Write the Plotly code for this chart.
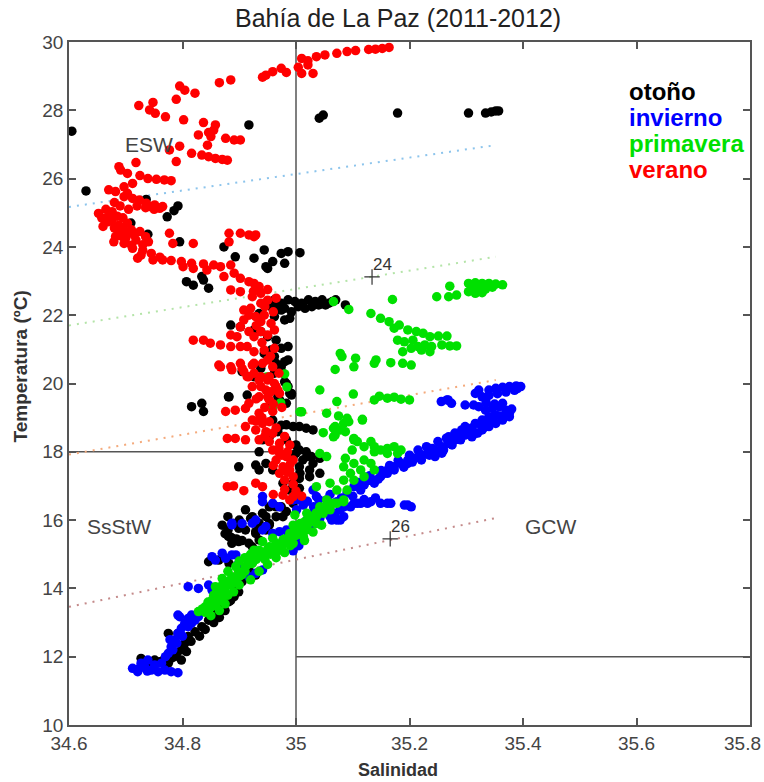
import plotly.graph_objects as go

# ---------------- data (salinity, temperature) ----------------
otono = [
    (35.041,27.77),(35.048,27.86),(35.179,27.92),(35.304,27.92),(35.334,27.92),(35.344,27.95),(35.352,27.98),(35.357,27.98),
    (34.605,27.39),(34.63,25.64),(34.917,27.57),(34.736,25.39),(34.792,25.2),(34.785,25.06),(34.773,24.88),(34.739,24.37),
    (34.709,24.7),(34.682,24.55),(34.795,24.15),(34.873,24.0),(34.893,23.71),(34.926,23.67),(34.944,23.91),(34.974,23.81),
    (34.986,23.86),(35.007,23.83),(34.959,23.57),(34.95,23.37),(34.947,23.42),(34.98,23.52),(34.807,22.98),(34.819,22.88),
    (34.834,23.13),(34.837,23.03),(34.846,22.79),
    (34.95,22.4),(34.962,22.45),(34.974,22.35),(34.986,22.45),(34.998,22.4),(35.01,22.35),(35.022,22.45),(35.034,22.4),
    (35.046,22.45),(35.058,22.35),(35.07,22.45),(35.087,22.3),(34.956,22.25),(34.98,22.2),(35.004,22.25),(35.028,22.25),
    (34.974,22.15),(34.992,22.1),(35.04,22.3),(35.016,22.2),(34.968,22.3),(35.052,22.3),(35.064,22.4),
    (34.935,22.05),(34.962,21.96),(34.98,21.86),(34.989,21.91),(34.885,21.71),(34.902,21.66),(34.926,21.57),(34.938,21.52),
    (34.95,21.37),(34.965,21.27),(34.986,21.08),(34.974,21.03),(34.956,20.98),(34.944,20.88),(34.962,20.79),(34.986,20.69),
    (34.974,20.49),(34.938,20.44),(34.905,20.35),(34.926,20.2),(34.962,20.3),(34.98,20.05),(34.986,19.91),(34.992,19.71),
    (34.882,19.61),(34.914,19.66),(34.968,19.61),
    (34.965,20.59),(34.98,20.64),(34.977,20.3),(34.983,20.0),(34.989,19.71),(34.971,19.52),(34.992,19.66),(34.983,19.42),
    (34.956,19.42),(34.816,19.32),(34.834,19.42),(34.837,19.18),(34.881,19.61),(34.959,18.93),(34.974,18.78),(34.995,18.74),
    (35.006,18.74),(35.018,18.69),(34.968,18.59),(34.953,18.44),(34.941,18.35),(34.983,18.35),(35.0,18.2),(35.006,18.05),
    (35.018,18.0),(35.027,17.86),(35.042,17.81),(35.012,17.76),(34.995,17.86),(34.935,18.0),(34.929,17.61),(34.935,17.47),
    (34.899,17.56),(34.947,17.66),(34.959,17.47),(35.006,17.56),(35.024,17.47),(35.042,17.37),(35.024,17.27),(35.006,17.22),
    (34.977,17.08),(34.989,16.88),(35.006,16.93),(34.995,16.49),(34.983,16.25),(34.965,16.1),(34.947,16.1),(34.974,16.39),
    (34.953,16.39),(34.923,16.1),(34.935,15.91),(34.911,15.71),(34.929,15.66),(34.947,15.71),(34.899,15.76),(34.881,15.52),
    (34.899,15.37),(34.887,15.32),(34.923,15.22),(34.935,15.42),(34.953,15.86),
    (35.0,17.96),(35.019,17.86),(35.03,17.66),(35.007,17.37),(34.995,17.08),(34.983,18.79),(35.03,18.64),
    (34.911,16.3),(34.941,16.2),(34.965,16.39),(34.977,16.1),(34.953,15.9),(34.935,15.81),(34.929,15.61),(34.887,15.47),
    (34.917,15.32),(34.953,15.12),(34.846,14.78),(34.864,14.83),(34.882,14.73),(34.9,14.64),(34.917,14.54),(34.929,14.39),
    (34.894,14.05),(34.899,13.9),(34.891,13.76),(34.882,13.61),(34.87,13.46),(34.861,13.27),(34.846,13.07),(34.834,12.88),
    (34.822,12.73),(34.81,12.59),(34.792,12.68),(34.775,12.68),(34.804,12.39),(34.798,12.2),(34.786,12.0),(34.769,11.95),
    (34.751,11.9),(34.727,11.95),(34.745,11.76),(34.775,11.81),(34.798,11.9),(34.807,12.15),(34.733,11.71),
    (34.875,15.6),(34.885,15.5),(34.895,15.45),(34.905,15.4),(34.88,15.7),(34.87,15.85),(34.89,15.9),(34.9,16.0),
    (34.92,16.05),(34.88,16.1),
    (34.905,14.2),(34.91,14.35),(34.92,14.45),(34.885,13.65),(34.875,13.35),(34.865,13.15),(34.855,13.0),(34.84,12.8),
    (34.83,12.6),(34.815,12.45),(34.8,12.3),(34.79,12.1),(34.78,11.95),(34.76,11.85),
]

invierno = [
    (34.712,11.66),(34.721,11.56),(34.733,11.71),(34.745,11.61),(34.757,11.56),(34.769,11.61),(34.78,11.56),(34.792,11.53),
    (34.727,11.81),(34.751,11.76),(34.763,11.81),(34.739,11.9),(34.724,11.66),(34.738,11.58),
    (34.775,12.1),(34.78,12.29),(34.786,12.49),(34.792,12.68),(34.798,12.83),(34.804,12.98),(34.81,13.12),(34.816,13.22),
    (34.822,13.07),(34.828,13.17),(34.795,13.17),(34.792,13.22),(34.778,12.5),(34.783,12.2),(34.81,12.88),(34.816,12.98),
    (34.77,12.0),(34.79,12.4),(34.8,12.6),
    (34.81,14.05),(34.828,14.0),(34.852,13.95),(34.846,14.1),(34.858,14.83),(34.876,14.88),(34.894,14.98),(34.899,14.73),
    (34.917,14.34),(34.929,14.44),(34.941,14.54),(34.887,15.86),(34.905,15.9),(34.929,16.0),(34.947,15.81),(34.971,15.66),
    (34.983,15.71),(34.989,15.51),(35.001,15.42),(35.013,15.47),(35.025,15.81),(35.019,16.0),(35.001,16.3),(35.013,16.44),
    (35.031,16.39),(35.042,16.05),(35.06,16.1),(35.072,16.0),(35.084,16.39),(35.108,16.49),(35.132,16.54),(35.161,16.49),
    (35.191,16.44),(34.941,16.54),
    (34.941,16.69),(34.959,16.49),(34.971,16.39),(34.995,16.59),(35.006,16.59),(35.03,16.88),(35.036,16.69),(35.054,16.59),
    (35.072,16.54),(35.102,16.49),(35.126,16.49),(35.149,16.49),(35.167,16.49),(35.203,16.39),(34.887,15.91),(34.923,15.91),
    (34.941,15.71),(34.959,15.61),(34.983,15.47),(34.995,15.22),(34.852,14.93),(34.87,15.03),(34.887,14.98),(35.069,16.2),
    (35.078,16.0),(35.268,18.25),(35.268,19.52),(35.256,19.47),
    (35.066,16.2),(35.078,16.3),(35.096,16.39),(35.114,16.49),(35.197,16.44),(35.063,16.0),(35.084,16.1),
    (35.102,16.98),(35.12,17.03),(35.138,17.17),(35.149,17.27),(35.173,17.56),(35.185,17.66),(35.197,17.76),(35.209,17.81),
    (35.221,17.91),(35.233,18.0),(35.245,18.05),(35.257,18.15),(35.269,18.25),(35.28,18.35),(35.269,18.44),(35.286,18.49),
    (35.298,18.49),(35.31,18.44),(35.316,18.54),(35.328,18.64),(35.34,18.74),(35.352,18.83),(35.364,18.93),(35.376,19.03),
    (35.37,19.22),(35.358,19.32),(35.346,19.27),(35.334,19.22),(35.322,19.32),(35.376,19.13),(35.364,19.42),(35.328,19.61),
    (35.316,19.71),(35.322,19.81),(35.34,19.81),(35.352,19.86),(35.364,19.89),(35.376,19.91),(35.388,19.93),(35.396,19.91),
    (35.266,19.52),(35.274,19.42),(35.298,19.37),(35.313,19.37),(35.292,18.64),(35.298,18.74),(35.316,18.83),(35.328,18.93),
    (35.34,19.03),(35.352,19.08),(35.245,17.86),(35.257,17.96),(35.221,17.76),(35.197,17.66),(35.173,17.47),(35.155,17.37),
    (35.138,17.08),(35.114,16.88),(35.161,17.37),(35.221,17.86),(35.245,17.96),
    (34.995,15.1),(35.005,15.25),(35.045,16.3),(35.055,16.45),
    (35.11,17.1),(35.13,17.3),(35.15,17.45),(35.165,17.6),(35.18,17.75),(35.2,17.9),(35.215,18.05),(35.23,18.15),
    (35.25,18.3),(35.265,18.4),(35.28,18.55),(35.3,18.65),(35.31,18.7),(35.325,18.8),(35.335,18.9),(35.345,18.95),
    (35.36,19.05),(35.37,19.1),(35.38,19.25),(35.35,19.4),(35.335,19.45),(35.34,19.65),(35.355,19.7),(35.37,19.75),
    (35.385,19.8),(35.39,19.85),(35.125,17.15),(35.145,17.2),(35.16,17.45),(35.19,17.55),(35.205,17.7),(35.235,17.9),
    (35.24,18.1),(35.26,18.05),(35.275,18.2),(35.29,18.35),(35.305,18.55),(35.32,18.55),(35.33,18.7),
    (35.04,16.6),(35.06,16.75),(35.08,16.65),(35.09,16.8),(35.1,16.7),(35.12,16.6),(35.14,16.65),(35.02,16.55),
    (35.03,16.2),(35.05,16.25),
]

primavera = [
    (34.828,13.32),(34.84,13.46),(34.852,13.66),(34.864,13.86),(34.858,14.05),(34.876,14.15),(34.87,14.29),(34.887,14.34),
    (34.899,14.49),(34.894,14.64),(34.911,14.64),(34.923,14.73),(34.917,14.88),(34.935,14.93),(34.947,15.03),(34.935,15.12),
    (34.953,15.22),(34.965,15.32),(34.977,15.42),(34.959,15.47),(34.989,15.61),(35.001,15.71),(35.013,15.76),(35.007,15.9),
    (35.025,16.0),(35.036,16.1),(35.019,16.2),(35.048,16.2),(35.06,16.3),(35.072,16.49),(35.084,16.59),(35.042,16.39),
    (34.998,16.15),(34.971,15.12),(34.941,15.37),(34.926,15.12),
    (34.84,13.3),(34.85,13.45),(34.86,13.55),(34.87,13.7),(34.88,13.8),(34.845,13.6),(34.855,13.8),(34.865,14.0),
    (34.875,13.95),(34.885,14.1),(34.88,14.5),(34.895,14.3),(34.905,14.4),(34.9,14.8),(34.91,14.9),(34.92,15.0),
    (34.93,14.85),(34.945,14.85),(34.955,15.0),(34.96,15.1),(34.975,15.25),(34.985,15.35),(34.99,15.5),(35.0,15.55),
    (35.01,15.6),(35.02,15.85),(35.03,15.95),(34.995,15.85),(35.04,16.25),(35.05,16.35),(35.055,16.5),
    (34.835,13.4),(34.845,13.35),(34.855,13.5),(34.865,13.65),(34.875,13.85),(34.86,13.9),(34.87,14.1),(34.88,14.2),
    (34.89,14.2),(34.9,14.35),(34.91,14.5),(34.915,14.7),(34.925,14.8),(34.94,14.95),(34.95,15.15),(34.965,15.2),
    (34.98,15.45),(34.995,15.6),(35.005,15.75),(35.015,15.95),(35.025,16.1),(35.035,16.2),(34.85,13.2),(34.865,13.35),
    (34.875,13.55),(34.89,13.9),(34.9,14.1),(34.92,14.25),(34.935,14.5),(34.95,14.7),(34.965,14.9),(34.98,15.05),
    (34.99,15.25),(35.015,15.4),(35.03,15.65),(35.045,15.85),
    (35.304,22.93),(35.316,22.95),(35.328,22.93),(35.34,22.93),(35.352,22.91),(35.364,22.89),(35.31,22.79),(35.322,22.74),
    (35.334,22.76),(35.346,22.82),(35.316,22.64),(35.328,22.66),(35.304,22.69),(35.271,22.85),(35.283,22.59),(35.269,22.54),
    (35.248,22.54),(35.17,22.46),
    (35.066,22.4),(35.093,22.17),(35.132,22.05),(35.149,21.91),(35.164,21.81),(35.173,21.62),(35.182,21.71),(35.197,21.57),
    (35.212,21.52),(35.224,21.47),(35.236,21.37),(35.251,21.39),(35.266,21.39),(35.179,21.27),(35.191,21.22),(35.206,21.27),
    (35.215,21.08),(35.227,21.13),(35.239,21.08),(35.257,21.13),(35.271,21.1),(35.283,21.1),(35.203,21.03),(35.188,20.93),
    (35.221,20.98),(35.236,20.93),
    (35.078,20.88),(35.081,20.79),(35.105,20.74),(35.102,20.49),(35.069,20.41),(35.138,20.59),(35.141,20.69),(35.167,20.61),
    (35.188,20.59),(35.203,20.54),(35.042,19.81),(35.072,19.47),(35.101,19.69),(35.138,19.52),(35.147,19.63),(35.161,19.57),
    (35.173,19.6),(35.185,19.54),(35.2,19.52),(35.01,19.17),(35.054,19.13),(35.075,19.05),(35.093,18.88),(35.117,18.95),
    (35.048,18.56),(35.066,18.69),(35.084,18.83),(35.069,18.49),(35.087,18.59),(35.102,18.39),(35.108,18.3),(35.099,18.05),
    (35.12,18.15),(35.132,18.3),(35.138,18.15),(35.149,18.05),(35.161,18.1),(35.173,18.15),(35.185,18.05),(35.138,18.0),
    (35.161,17.95),(35.179,17.95),(35.087,17.81),(35.042,17.95),(35.054,17.86),
    (35.084,17.56),(35.102,17.66),(35.12,17.76),(35.132,17.66),(35.138,17.47),(35.114,17.47),(35.096,17.37),(35.084,17.17),
    (35.102,17.17),(35.12,17.27),(35.036,16.98),(35.06,17.08),(35.072,16.88),(35.09,16.88),(35.054,16.59),(35.066,16.49),
    (35.084,16.54),(35.03,16.1),(35.019,15.71),(35.036,15.9),(35.013,15.52),(34.995,15.32),
    (34.948,20.19),(34.98,20.28),(34.984,19.9),(34.973,19.43),(34.959,19.31),(35.007,19.17),
    (35.069,18.74),(35.078,18.64),(35.09,18.98),(35.102,18.35),(35.117,18.93),(35.066,18.44),
]

verano = [
    (35.164,29.84),(35.152,29.81),(35.14,29.79),(35.128,29.78),(35.105,29.75),(35.09,29.72),(35.072,29.67),(35.051,29.62),
    (35.036,29.57),(35.021,29.45),(35.01,29.52),(35.004,29.26),(35.01,29.08),(35.03,29.08),(35.021,29.33),(34.983,29.11),
    (34.974,29.23),(34.959,29.13),(34.947,29.03),(34.941,28.97),(34.885,28.89),(34.865,28.81),(34.795,28.71),(34.804,28.59),
    (34.822,28.5),(34.789,28.32),(34.748,28.23),(34.723,28.14),(34.742,28.01),(34.752,27.91),(34.77,27.81),(34.802,27.72),
    (34.837,27.64),(34.858,27.57),(34.855,27.42),(34.846,27.35),(34.828,27.28),(34.85,27.23),(34.876,27.18),(34.891,27.13),
    (34.902,27.13),(34.844,26.98),(34.795,26.95),(34.777,26.84),(34.816,26.74),(34.834,26.69),(34.846,26.64),(34.858,26.59),
    (34.87,26.56),(34.879,26.54),(34.789,26.5),(34.718,26.47),(34.688,26.35),(34.691,26.25),(34.703,26.15),(34.725,26.09),
    (34.712,25.86),(34.739,26.0),(34.754,25.98),(34.768,25.96),(34.78,25.94),(34.67,25.67),(34.682,25.62),(34.697,25.76),
    (34.703,25.57),(34.712,25.42),(34.724,25.37),(34.736,25.28),(34.751,25.23),(34.765,25.18),(34.697,25.47),(34.676,25.03),
    (34.652,24.98),(34.658,24.84),(34.67,24.74),(34.688,24.64),(34.703,24.69),(34.691,24.45),(34.682,24.3),(34.706,24.4),
    (34.777,24.4),(34.882,24.4),(34.902,24.4),(34.917,24.35),(34.926,24.3),
    (34.742,25.18),(34.76,25.13),(34.664,24.84),(34.676,24.79),(34.694,24.3),(34.679,24.15),(34.697,24.1),(34.718,24.2),
    (34.73,24.06),(34.712,23.96),(34.727,23.76),(34.745,23.81),(34.748,23.62),(34.721,23.67),(34.765,23.62),(34.78,23.6),
    (34.798,23.57),(34.816,23.52),(34.837,23.5),(34.855,23.47),(34.783,24.1),(34.819,24.1),(34.882,24.15),(34.929,24.35),
    (34.801,23.42),(34.819,23.37),(34.843,23.32),(34.867,23.42),(34.885,23.47),(34.891,23.23),(34.873,23.13),(34.902,23.08),
    (34.917,22.98),(34.926,22.93),(34.935,22.84),(34.938,22.64),(34.885,22.74),(34.902,22.69),(34.923,22.54),(34.95,22.44),
    (34.938,22.35),
    (34.908,22.15),(34.917,22.0),(34.929,21.96),(34.944,22.0),(34.908,21.86),(34.938,21.81),(34.956,21.76),(34.902,21.66),
    (34.917,21.52),(34.938,21.52),(34.962,21.57),(34.885,21.42),(34.896,21.37),(34.926,21.37),(34.95,21.42),(34.819,21.27),
    (34.837,21.27),(34.849,21.18),(34.867,21.13),(34.885,21.08),(34.902,21.08),(34.914,21.08),(34.926,20.93),(34.944,20.98),
    (34.962,21.03),(34.864,20.54),(34.885,20.49),(34.902,20.59),(34.926,20.59),(34.95,20.69),(34.908,20.35),(34.926,20.3),
    (34.914,20.2),(34.938,20.2),(34.95,20.1),(34.962,20.0),(34.938,19.91),(34.956,19.76),(34.968,19.81),(34.95,19.61),
    (34.867,20.49),(34.887,20.40),(34.905,20.44),(34.923,20.54),(34.941,20.59),(34.959,20.49),(34.917,20.20),(34.935,20.10),
    (34.953,20.20),(34.923,19.91),(34.947,19.81),(34.965,19.91),(34.971,19.71),(34.935,19.61),(34.953,19.52),(34.917,19.42),
    (34.876,19.18),(34.893,19.22),(34.911,19.27),(34.935,19.13),(34.959,19.18),(34.923,18.93),(34.941,18.83),(34.953,18.88),
    (34.911,18.74),(34.929,18.64),(34.947,18.59),(34.959,18.54),(34.879,18.39),(34.893,18.39),(34.911,18.35),(34.935,18.35),
    (34.953,18.3),(34.971,18.25),(34.989,18.2),(34.959,18.05),(34.971,17.96),(34.983,17.86),(34.995,17.76),(34.965,17.76),
    (34.977,17.56),(34.989,17.47),(34.971,17.37),(34.995,17.27),(34.98,17.17),(34.929,17.08),(34.941,16.98),(34.879,16.98),
    (34.89,17.0),(34.908,16.86),(34.977,16.73),(34.995,16.69),(35.01,16.7),(34.989,16.59),
    (34.96,19.4),(34.975,19.3),(34.94,19.0),(34.965,18.7),(34.98,18.45),(34.985,18.0),(34.99,17.65),(34.975,17.9),
    (34.96,17.6),(34.985,17.4),(34.995,17.05),(34.98,16.9),(34.96,16.75),(35.0,16.85),(34.97,18.1),(34.945,18.45),
    (34.93,18.9),(34.945,19.3),(34.93,19.55),(34.97,20.3),(34.955,20.8),(34.94,21.2),(34.93,21.7),(34.92,22.2),
    (34.945,22.25),(34.96,22.1),(34.965,22.5),(34.925,22.7),(34.95,22.75),
    (34.665,25.1),(34.672,24.95),(34.685,24.9),(34.695,24.85),(34.68,24.55),(34.695,24.55),(34.71,24.5),(34.715,24.35),
    (34.7,24.25),(34.725,24.45),(34.735,24.3),(34.74,24.15),(34.71,24.05),(34.73,23.9),(34.76,23.7),(34.69,25.2),
    (34.705,25.1),(34.72,25.2),(34.735,25.15),(34.75,25.1),(34.68,25.3),(34.66,24.6),
]

# isopycnal (sigma-t) dotted guide lines: salinity ends and temperature ends
iso_sal = [34.6, 35.352]
iso_23_temp = [25.17, 26.98]
iso_24_temp = [21.70, 23.71]
iso_25_temp = [17.92, 20.10]
iso_26_temp = [13.46, 16.06]
iso_label_sal = [35.134, 35.166]
iso_label_temp = [23.12, 15.45]
iso_label_text = ["24", "26"]

season_names = ["otoño", "invierno", "primavera", "verano"]
season_colors = ["#000000", "#0000ff", "#00e000", "#ff0000"]
water_masses = ["ESW", "SsStW", "GCW"]
water_sal = [34.741, 34.6875, 35.45]
water_temp = [27.0, 15.8, 15.8]

x_ticks = [34.6, 34.8, 35.0, 35.2, 35.4, 35.6, 35.8]
x_tick_text = ["34.6", "34.8", "35", "35.2", "35.4", "35.6", ""]   # last label drawn separately, right-aligned
x_last_label = "35.8"
y_ticks = [10, 12, 14, 16, 18, 20, 22, 24, 26, 28, 30]

# ---------------- figure ----------------
fig = go.Figure()

iso_sets = [(iso_23_temp, "#8cc4ec"), (iso_24_temp, "#b4e4a8"), (iso_25_temp, "#f4aa7c"), (iso_26_temp, "#c48a8a")]
for temps, col in iso_sets:
    fig.add_trace(go.Scatter(x=iso_sal, y=temps, mode="lines",
                             line=dict(color=col, width=2, dash="2px,6px"),
                             hoverinfo="skip", showlegend=False))

series = [otono, invierno, primavera, verano]
for name, data, col in zip(season_names, series, season_colors):
    fig.add_trace(go.Scatter(
        x=[p[0] for p in data], y=[p[1] for p in data], mode="markers", name=name,
        marker=dict(size=9.5, color=col, line=dict(width=0)), showlegend=False))

fig.add_trace(go.Scatter(x=iso_label_sal, y=iso_label_temp, mode="markers",
                         marker=dict(symbol="cross-thin", size=11, line=dict(color="#333", width=1.2)),
                         showlegend=False, hoverinfo="skip"))
for s, t, txt in zip(iso_label_sal, iso_label_temp, iso_label_text):
    fig.add_annotation(x=s, y=t, text=txt, showarrow=False, xanchor="left", yanchor="bottom",
                       xshift=-1, yshift=1, font=dict(family="Liberation Sans, Arial", size=17, color="#333"))

for txt, s, t in zip(water_masses, water_sal, water_temp):
    fig.add_annotation(x=s, y=t, text=txt, showarrow=False,
                       font=dict(family="Liberation Sans, Arial", size=21, color="#444"))

# reference lines
line_col = "#555555"
fig.add_shape(type="line", x0=35.0, x1=35.0, y0=10, y1=30, xref="x", yref="y",
              line=dict(color=line_col, width=1.5), layer="below")
fig.add_shape(type="line", x0=34.6, x1=35.0, y0=18, y1=18, xref="x", yref="y",
              line=dict(color=line_col, width=1.5), layer="below")
fig.add_shape(type="line", x0=35.0, x1=35.8, y0=12, y1=12, xref="x", yref="y",
              line=dict(color=line_col, width=1.5), layer="below")

# legend as colored text
for i, (name, col) in enumerate(zip(season_names, season_colors)):
    fig.add_annotation(x=35.584, y=28.55 - i * 0.76, text="<b>%s</b>" % name, showarrow=False,
                       xanchor="left", yanchor="middle",
                       font=dict(family="Liberation Sans, Arial", size=24, color=col))

tick_font = dict(family="Liberation Sans Narrow, Liberation Sans, Arial Narrow, sans-serif", size=19, color="#444")

# last x tick label, right-aligned so it stays inside the page
fig.add_annotation(x=x_ticks[-1], xref="x", yref="paper", y=0, yshift=-18, xshift=13,
                   text=x_last_label, showarrow=False, xanchor="right", yanchor="middle", font=tick_font)

# titles
fig.add_annotation(xref="paper", yref="paper", x=0.483, y=1, yshift=24, text="Bahía de La Paz (2011-2012)",
                   showarrow=False, xanchor="center", yanchor="middle",
                   font=dict(family="Liberation Sans, Arial", size=25, color="#222"))
fig.add_annotation(xref="paper", yref="paper", x=0.483, y=0, yshift=-45, text="<b>Salinidad</b>",
                   showarrow=False, xanchor="center", yanchor="middle",
                   font=dict(family="Liberation Sans, Arial", size=18, color="#333"))
fig.add_annotation(xref="paper", yref="paper", x=0, xshift=-49, y=0.5, yshift=17, text="<b>Temperatura (ºC)</b>",
                   showarrow=False, textangle=-90, xanchor="center", yanchor="middle",
                   font=dict(family="Liberation Sans, Arial", size=19, color="#333"))

fig.update_xaxes(range=[34.6, 35.8], tickvals=x_ticks, ticktext=x_tick_text, ticks="inside", ticklen=7,
                 tickcolor=line_col, tickwidth=1.5, showline=True, linecolor=line_col, linewidth=1.5,
                 mirror="ticks", showgrid=False, zeroline=False, tickfont=tick_font,
                 ticklabeloverflow="allow", automargin=False)
fig.update_yaxes(range=[10, 30], tickvals=y_ticks, ticks="inside", ticklen=7,
                 tickcolor=line_col, tickwidth=1.5, showline=True, linecolor=line_col, linewidth=1.5,
                 mirror="ticks", showgrid=False, zeroline=False, tickfont=tick_font,
                 ticklabeloverflow="allow", automargin=False)

fig.update_layout(width=764, height=782, margin=dict(l=69, r=14, t=42, b=57, autoexpand=False),
                  plot_bgcolor="white", paper_bgcolor="white", showlegend=False)

fig.write_html("out.html", config={"displayModeBar": False},
               post_script="document.body.style.margin='0';document.body.style.overflow='hidden';")
